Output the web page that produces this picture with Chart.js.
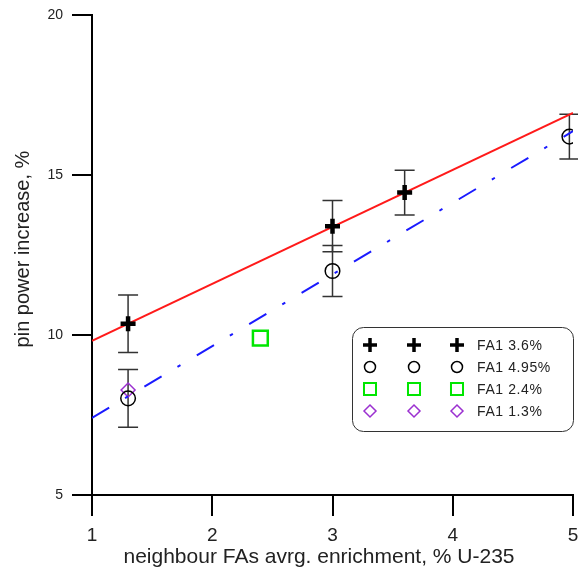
<!DOCTYPE html>
<html lang="en">
<head>
<meta charset="UTF-8" />
<title>Pin power increase vs neighbour FA enrichment</title>
<script src="https://cdn.jsdelivr.net/npm/chart.js"></script>
<style>
  body { margin: 0; background: #fff; }
  #wrap { width: 578px; height: 574px; }
</style>
</head>
<body>
<div id="wrap"><canvas id="chart" width="578" height="574"></canvas></div>
<script>
// FA1 3.6% (plus markers)
const fa36X = [1.3, 3.0, 3.6];
const fa36Y = [10.35, 13.4, 14.45];
const fa36Err = [0.9, 0.8, 0.7];
// FA1 4.95% (circles)
const fa495X = [1.3, 3.0, 4.97];
const fa495Y = [8.02, 12.0, 16.2];
const fa495Err = [0.9, 0.8, 0.7];
// FA1 2.4% (square)
const fa24X = [2.4];
const fa24Y = [9.9];
// FA1 1.3% (diamond)
const fa13X = [1.3];
const fa13Y = [8.28];
// linear fits
const fitRedX = [1, 5];
const fitRedY = [9.82, 16.94];
const fitBlueX = [1, 5];
const fitBlueY = [7.41, 16.37];

const xTicks = [1, 2, 3, 4, 5];
const yTicks = [5, 10, 15, 20];
const legendLabels = ['FA1 3.6%', 'FA1 4.95%', 'FA1 2.4%', 'FA1 1.3%'];
const xTitle = 'neighbour FAs avrg. enrichment, % U-235';
const yTitle = 'pin power increase, %';

const pts = (xs, ys) => xs.map((x, i) => ({ x: x, y: ys[i] }));

const FONT = "'Liberation Sans', Arial, sans-serif";
const TEXT = '#222';

// vertical error bars with caps, drawn under the markers
const errorBars = {
    id: 'errorBars',
    beforeDatasetsDraw(chart) {
        const ctx = chart.ctx, xs = chart.scales.x, ys = chart.scales.y;
        const sets = [[fa36X, fa36Y, fa36Err], [fa495X, fa495Y, fa495Err]];
        ctx.save();
        ctx.strokeStyle = '#333';
        ctx.lineWidth = 1.5;
        sets.forEach(([X, Y, E]) => {
            X.forEach((x, i) => {
                const px = xs.getPixelForValue(x);
                const top = ys.getPixelForValue(Y[i] + E[i]);
                const bot = ys.getPixelForValue(Y[i] - E[i]);
                ctx.beginPath();
                ctx.moveTo(px, top); ctx.lineTo(px, bot);
                ctx.moveTo(px - 10, top); ctx.lineTo(px + 10, top);
                ctx.moveTo(px - 10, bot); ctx.lineTo(px + 10, bot);
                ctx.stroke();
            });
        });
        ctx.restore();
    }
};

// axis titles and the boxed legend with three symbol columns
const decorations = {
    id: 'decorations',
    afterDraw(chart) {
        const ctx = chart.ctx;
        ctx.save();
        ctx.fillStyle = TEXT;
        ctx.font = '21px ' + FONT;
        ctx.textAlign = 'center';
        ctx.textBaseline = 'alphabetic';
        ctx.fillText(xTitle, 319, 563);

        ctx.save();
        ctx.translate(29, 249);
        ctx.rotate(-Math.PI / 2);
        ctx.font = '20px ' + FONT;
        ctx.fillText(yTitle, 0, 0);
        ctx.restore();

        // legend box
        ctx.beginPath();
        ctx.roundRect(352.5, 327.5, 221, 104, 11);
        ctx.fillStyle = '#fff';
        ctx.fill();
        ctx.strokeStyle = '#333';
        ctx.lineWidth = 1;
        ctx.stroke();

        const rowY = [345, 367, 389, 411];
        const colX = [370, 414, 457];
        const marks = [
            { pointStyle: 'cross', radius: 7, borderWidth: 3.5, color: '#000' },
            { pointStyle: 'circle', radius: 5.5, borderWidth: 1.5, color: '#000' },
            { pointStyle: 'rect', radius: 8.5, borderWidth: 2, color: '#00e600' },
            { pointStyle: 'rectRot', radius: 6, borderWidth: 1.5, color: '#9b30d0' }
        ];
        marks.forEach((m, r) => {
            ctx.strokeStyle = m.color;
            ctx.fillStyle = 'rgba(0,0,0,0)';
            ctx.lineWidth = m.borderWidth;
            colX.forEach(cx => {
                Chart.helpers.drawPoint(ctx, { pointStyle: m.pointStyle, radius: m.radius, rotation: 0, borderWidth: m.borderWidth }, cx, rowY[r]);
            });
        });

        ctx.fillStyle = TEXT;
        ctx.font = '14px ' + FONT;
        ctx.letterSpacing = '0.6px';
        ctx.textAlign = 'left';
        ctx.textBaseline = 'middle';
        legendLabels.forEach((t, r) => ctx.fillText(t, 477, rowY[r] + 1));
        ctx.restore();
    }
};

new Chart(document.getElementById('chart'), {
    type: 'scatter',
    data: {
        datasets: [
            { label: legendLabels[0], data: pts(fa36X, fa36Y), pointStyle: 'cross', pointRadius: 7.5, borderWidth: 4.5, borderColor: '#000', order: 0 },
            { label: 'fit 3.6', type: 'line', data: pts(fitRedX, fitRedY), borderColor: '#ff1a1a', borderWidth: 2, pointRadius: 0, order: 1 },
            { label: 'fit 4.95', type: 'line', data: pts(fitBlueX, fitBlueY), borderColor: '#1a1aff', borderWidth: 2, borderDash: [20, 18.5, 3.5, 19], pointRadius: 0, order: 1 },
            { label: legendLabels[1], data: pts(fa495X, fa495Y), pointStyle: 'circle', pointRadius: 7.3, borderWidth: 1.5, borderColor: '#000', backgroundColor: 'rgba(0,0,0,0)', order: 2 },
            { label: legendLabels[2], data: pts(fa24X, fa24Y), pointStyle: 'rect', pointRadius: 10.5, borderWidth: 2.5, borderColor: '#00e600', backgroundColor: 'rgba(0,0,0,0)', order: 2 },
            { label: legendLabels[3], data: pts(fa13X, fa13Y), pointStyle: 'rectRot', pointRadius: 7, borderWidth: 1.5, borderColor: '#9b30d0', backgroundColor: 'rgba(0,0,0,0)', order: 2 }
        ]
    },
    options: {
        responsive: false,
        animation: false,
        // markers near the right edge must not shrink the plot area
        layout: { autoPadding: false, padding: { top: 15, right: 5, left: 0, bottom: 0 } },
        plugins: { legend: { display: false }, tooltip: { enabled: false } },
        scales: {
            x: {
                type: 'linear', min: 1, max: 5,
                afterFit: s => { s.height = 79; s.paddingLeft = 0; s.paddingRight = 0; },
                afterBuildTicks: s => { s.ticks = xTicks.map(v => ({ value: v })); },
                border: { color: '#000', width: 2 },
                grid: { drawOnChartArea: false, color: '#000', lineWidth: 2, tickLength: 21 },
                ticks: { color: TEXT, font: { family: FONT, size: 19 }, padding: 8 }
            },
            y: {
                type: 'linear', min: 5, max: 20,
                afterFit: s => { s.width = 92; s.paddingTop = 0; s.paddingBottom = 0; },
                afterBuildTicks: s => { s.ticks = yTicks.map(v => ({ value: v })); },
                border: { color: '#000', width: 2 },
                grid: { drawOnChartArea: false, color: '#000', lineWidth: 2, tickLength: 20 },
                ticks: { color: TEXT, font: { family: FONT, size: 14 }, padding: 9 }
            }
        }
    },
    plugins: [errorBars, decorations]
});
</script>
</body>
</html>
